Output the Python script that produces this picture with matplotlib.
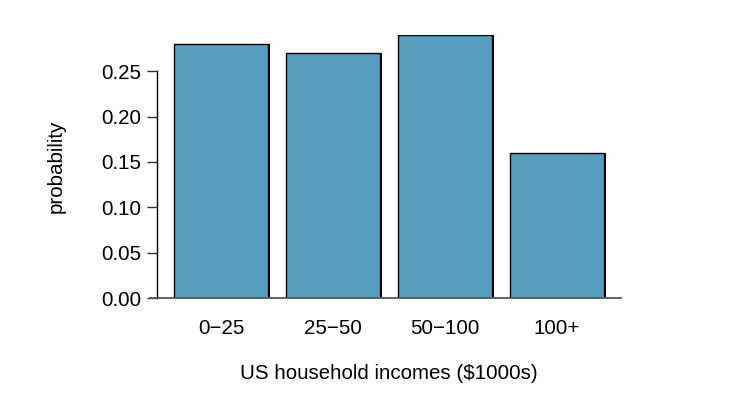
import matplotlib
matplotlib.use("Agg")
import matplotlib.pyplot as plt
import matplotlib.transforms as mtransforms

categories = ["0-25", "25-50", "50-100", "100+"]
probabilities = [0.28, 0.27, 0.29, 0.16]
yticks = [0.00, 0.05, 0.10, 0.15, 0.20, 0.25]

plt.rcParams['font.family'] = ['Liberation Sans', 'DejaVu Sans']
plt.rcParams['font.size'] = 14.8

fig = plt.figure(figsize=(7.35, 3.94), dpi=100)
ax = fig.add_axes([157/735, 1-298/394, (621-157)/735, (298-35)/394])

x = list(range(len(categories)))
# shadow
shadow = mtransforms.offset_copy(ax.transData, fig=fig, x=1.5, y=0, units='dots')
ax.bar(x, probabilities, width=0.84, color='black', transform=shadow, zorder=1)
ax.bar(x, probabilities, width=0.84, color='#569dbe', edgecolor='black', linewidth=1.0, zorder=2)

ax.set_xlim(-0.571, 3.571)
ax.set_ylim(0, 0.29)

for s in ['top', 'right', 'bottom']:
    ax.spines[s].set_visible(False)
ax.spines['left'].set_bounds(0, 0.25)
ax.spines['left'].set_linewidth(1.0)

ax.plot([-7/464, 1], [0, 0], transform=ax.transAxes, color='#555555', lw=1.3, clip_on=False, zorder=3)

ax.set_yticks(yticks)
ax.set_yticklabels([f"{v:.2f}" for v in yticks])
ax.tick_params(axis='y', length=7, width=1.0, pad=4, color='#333333')
ax.set_xticks(x)
ax.set_xticklabels([c.replace('-', '\u2212') for c in categories])
ax.tick_params(axis='x', length=0, pad=15)

ax.set_xlabel("US household incomes ($1000s)", labelpad=19)
ax.set_ylabel("probability", labelpad=26)

fig.savefig("out.png", dpi=100)
